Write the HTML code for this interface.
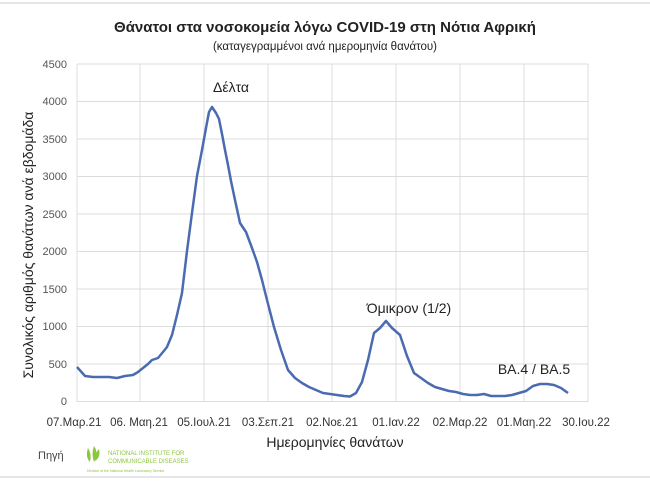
<!DOCTYPE html>
<html><head><meta charset="utf-8"><style>
body{margin:0;background:#fff;width:650px;height:486px;overflow:hidden;font-family:"Liberation Sans","DejaVu Sans",sans-serif}
</style></head><body>
<svg width="650" height="486" xmlns="http://www.w3.org/2000/svg" font-family="Liberation Sans, DejaVu Sans, sans-serif">
<line x1="0" y1="3" x2="650" y2="3" stroke="#e6e6e6" stroke-width="2"/>
<line x1="0" y1="477" x2="650" y2="477" stroke="#e6e6e6" stroke-width="2"/>
<text x="325" y="32" text-anchor="middle" font-size="15" font-weight="bold" fill="#222">Θάνατοι στα νοσοκομεία λόγω COVID-19 στη Νότια Αφρική</text>
<text x="325" y="50" text-anchor="middle" font-size="11.5" fill="#222">(καταγεγραμμένοι ανά ημερομηνία θανάτου)</text>
<g stroke="#dcdcdc" stroke-width="1">
<line x1="77" y1="64" x2="588" y2="64"/><line x1="77" y1="101.5" x2="588" y2="101.5"/><line x1="77" y1="139" x2="588" y2="139"/><line x1="77" y1="176.5" x2="588" y2="176.5"/><line x1="77" y1="214" x2="588" y2="214"/><line x1="77" y1="251.5" x2="588" y2="251.5"/><line x1="77" y1="289" x2="588" y2="289"/><line x1="77" y1="326.5" x2="588" y2="326.5"/><line x1="77" y1="364" x2="588" y2="364"/><line x1="77" y1="401.5" x2="588" y2="401.5"/>
<line x1="77" y1="64" x2="77" y2="402"/><line x1="140" y1="64" x2="140" y2="402"/><line x1="204" y1="64" x2="204" y2="402"/><line x1="268" y1="64" x2="268" y2="402"/><line x1="332" y1="64" x2="332" y2="402"/><line x1="396" y1="64" x2="396" y2="402"/><line x1="460" y1="64" x2="460" y2="402"/><line x1="524" y1="64" x2="524" y2="402"/><line x1="588" y1="64" x2="588" y2="402"/>
</g>
<g font-size="11" fill="#555" text-anchor="end">
<text x="67" y="68">4500</text><text x="67" y="105">4000</text><text x="67" y="143">3500</text><text x="67" y="180">3000</text><text x="67" y="218">2500</text><text x="67" y="255">2000</text><text x="67" y="293">1500</text><text x="67" y="330">1000</text><text x="67" y="368">500</text><text x="67" y="405">0</text>
</g>
<g font-size="11.5" fill="#333" text-anchor="middle">
<text x="74" y="426">07.Μαρ.21</text><text x="139" y="426">06. Μαη.21</text><text x="204" y="426">05.Ιουλ.21</text><text x="268" y="426">03.Σεπ.21</text><text x="332" y="426">02.Νοε.21</text><text x="396" y="426">01.Ιαν.22</text><text x="460" y="426">02.Μαρ.22</text><text x="524" y="426">01.Μαη.22</text><text x="586" y="426">30.Ιου.22</text>
</g>
<text x="335" y="447" text-anchor="middle" font-size="14" fill="#222">Ημερομηνίες θανάτων</text>
<text transform="translate(33,245) rotate(-90)" text-anchor="middle" font-size="14" fill="#222">Συνολικός αριθμός θανάτων ανά εβδομάδα</text>
<text x="231" y="92" text-anchor="middle" font-size="14" fill="#222">Δέλτα</text>
<text x="409" y="313" text-anchor="middle" font-size="14" fill="#222">Όμικρον (1/2)</text>
<text x="534" y="374" text-anchor="middle" font-size="14" fill="#222">BA.4 / BA.5</text>
<polyline fill="none" stroke="#4a6bb0" stroke-width="2.5" stroke-linejoin="round" points="77,367 85,376 93,377 101,377 109,377 117,378 125,376 133,375 138,372 143,368 148,364 152,360 158,358 163,352 167,347 172,335 177,315 182,293 187,251 192,213 197,176 202,150 206,128 209,112 212,107 216,113 219,119 222,134 225,150 228,165 231,181 235,200 240,223 246,232 252,248 257,262 262,280 267,300 274,327 281,350 288,370 295,378 302,383 309,387 316,390 323,393 330,394 337,395 344,396 350,396.5 356,393 362,382 368,360 374,333 380,328 386,321 392,328 400,335 407,356 414,373 421,378 428,383 435,387 442,389 449,391 456,392 463,394 470,395 477,395 484,394 491,396 498,396 505,396 512,395 519,393 526,391 533,386 540,384 547,384 554,385 561,388 568,393"/>
<text x="38" y="459" font-size="11" fill="#444">Πηγή</text>
<g fill="#8dc63f"><path d="M88 448 q4 6 2 14 q-5-5-2-14z"/><path d="M94 446 q5 7 0 16 q-3-8 0-16z"/><path d="M99 449 q2 8-4 12 q0-8 4-12z"/></g>
<text x="108" y="455" font-size="6" fill="#8dc63f">NATIONAL INSTITUTE FOR</text>
<text x="108" y="463" font-size="6" fill="#8dc63f">COMMUNICABLE DISEASES</text>
<text x="87" y="472" font-size="3.5" fill="#8dc63f">Division of the National Health Laboratory Service</text>
</svg>
</body></html>
